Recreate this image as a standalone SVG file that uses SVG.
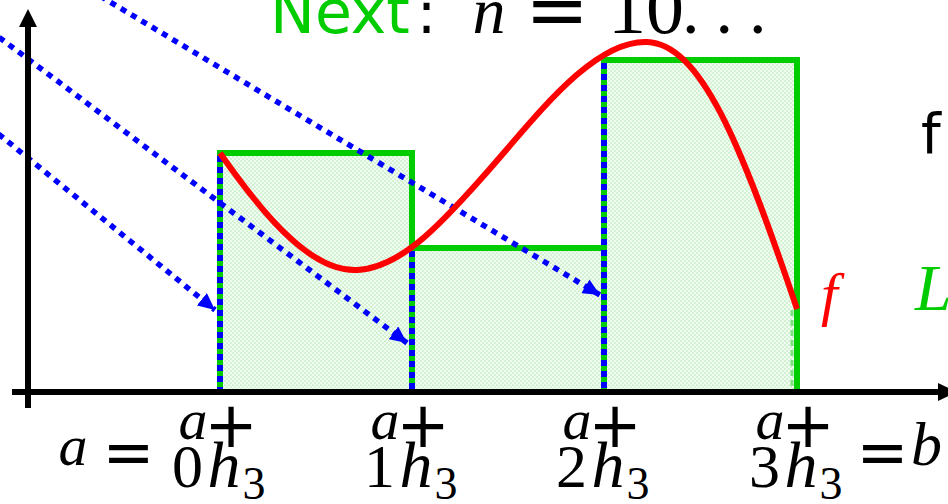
<svg xmlns="http://www.w3.org/2000/svg" width="948" height="504" viewBox="0 0 948 504">
<style>
.m{font-family:"Liberation Serif",serif;font-style:italic}
.r{font-family:"Liberation Serif",serif}
.op{font-family:"DejaVu Sans",sans-serif}
.sans{font-family:"DejaVu Sans",sans-serif}
.bar{fill:url(#chk);stroke:#00cc00;stroke-width:6}
.vdash{stroke:#0000ff;stroke-width:6;stroke-dasharray:6 5;fill:none}
.arr{stroke:#0000ff;stroke-width:5.5;stroke-dasharray:6 6;fill:none;marker-end:url(#ah)}
.axis{stroke:#000;stroke-width:6;fill:none}
</style>
<defs>
<pattern id="chk" width="4" height="4" patternUnits="userSpaceOnUse">
<rect width="4" height="4" fill="#f2fcf2"/>
<rect width="2" height="2" fill="#d2f3d2"/>
<rect x="2" y="2" width="2" height="2" fill="#d2f3d2"/>
</pattern>
<marker id="ah" markerUnits="userSpaceOnUse" markerWidth="18" markerHeight="16" refX="17" refY="8" orient="auto" viewBox="0 0 18 16">
<path d="M0,0 L17,8 L0,16 z" fill="#0000ff"/>
</marker>
</defs>

<g id="bars">
<rect id="bar1" class="bar" x="220" y="153" width="192" height="239"/>
<rect id="bar2" class="bar" x="412" y="248" width="192" height="144"/>
<rect id="bar3" class="bar" x="604" y="60" width="193" height="332"/>
<line x1="792" y1="310" x2="792" y2="390" stroke="#7ee07e" stroke-width="3" stroke-dasharray="6 4"/>
</g>

<g id="connectors">
<line class="vdash" x1="220" y1="156" x2="220" y2="392"/>
<line class="vdash" x1="412" y1="251" x2="412" y2="392"/>
<line class="vdash" x1="604" y1="63" x2="604" y2="392"/>
<path class="arr" d="M-20,119 L215,310"/>
<path class="arr" d="M-20,23 L407,343"/>
<path class="arr" d="M90,-10 L600,295"/>
</g>

<g id="curve">
<path d="M220,153 C270,225 315,272 357,270 C400,268 440,225 480,180 C530,125 590,40 647,42 C700,44 740,140 797,309" fill="none" stroke="#ff0000" stroke-width="6"/>
</g>

<g id="axes">
<line class="axis" x1="28" y1="408" x2="28" y2="24"/>
<path d="M28,9 L19,27 L37,27 z" fill="#000"/>
<line class="axis" x1="12" y1="392" x2="940" y2="392"/>
<path d="M957,392 L938,383 L938,401 z" fill="#000"/>
</g>

<g id="title">
<text class="sans" x="270" y="33" font-size="60" fill="#00cc00">Next</text>
<text class="sans" x="426.5" y="33" font-size="58" text-anchor="middle" fill="#000">:</text>
<text class="m" x="489" y="33" font-size="66" text-anchor="middle">n</text>
<text class="op" x="557" y="36" font-size="76" text-anchor="middle">=</text>
<text class="r" x="646" y="33" font-size="76" text-anchor="middle">10</text>
<text class="r" x="682" y="33" font-size="70" letter-spacing="16">...</text>
</g>

<g id="side-labels">
<text class="sans" x="921" y="153" font-size="56" fill="#000">f</text>
<text class="m" x="915" y="310" font-size="66" fill="#00cc00">L</text>
<text class="m" x="821" y="314" font-size="60" fill="#ff0000">f</text>
</g>

<g id="tick-labels">
<text class="m" x="73" y="465" font-size="58" text-anchor="middle">a</text>
<text class="op" x="128.5" y="474" font-size="62" text-anchor="middle">=</text>

<text class="m" x="193" y="439" font-size="58" text-anchor="middle">a</text>
<text class="op" x="231" y="447" font-size="64" text-anchor="middle">+</text>
<text class="r" x="187.5" y="487" font-size="62" text-anchor="middle">0</text>
<text class="m" x="224" y="487" font-size="66" text-anchor="middle">h</text>
<text class="r" x="254" y="499" font-size="46" text-anchor="middle">3</text>

<text class="m" x="385" y="439" font-size="58" text-anchor="middle">a</text>
<text class="op" x="423" y="447" font-size="64" text-anchor="middle">+</text>
<text class="r" x="379.5" y="487" font-size="62" text-anchor="middle">1</text>
<text class="m" x="416" y="487" font-size="66" text-anchor="middle">h</text>
<text class="r" x="446" y="499" font-size="46" text-anchor="middle">3</text>

<text class="m" x="577" y="439" font-size="58" text-anchor="middle">a</text>
<text class="op" x="615" y="447" font-size="64" text-anchor="middle">+</text>
<text class="r" x="571.5" y="487" font-size="62" text-anchor="middle">2</text>
<text class="m" x="608" y="487" font-size="66" text-anchor="middle">h</text>
<text class="r" x="638" y="499" font-size="46" text-anchor="middle">3</text>

<text class="m" x="770" y="439" font-size="58" text-anchor="middle">a</text>
<text class="op" x="808" y="447" font-size="64" text-anchor="middle">+</text>
<text class="r" x="764.5" y="487" font-size="62" text-anchor="middle">3</text>
<text class="m" x="801" y="487" font-size="66" text-anchor="middle">h</text>
<text class="r" x="831" y="499" font-size="46" text-anchor="middle">3</text>

<text class="op" x="882.5" y="474" font-size="62" text-anchor="middle">=</text>
<text class="m" x="911" y="465" font-size="62">b</text>
</g>
</svg>
